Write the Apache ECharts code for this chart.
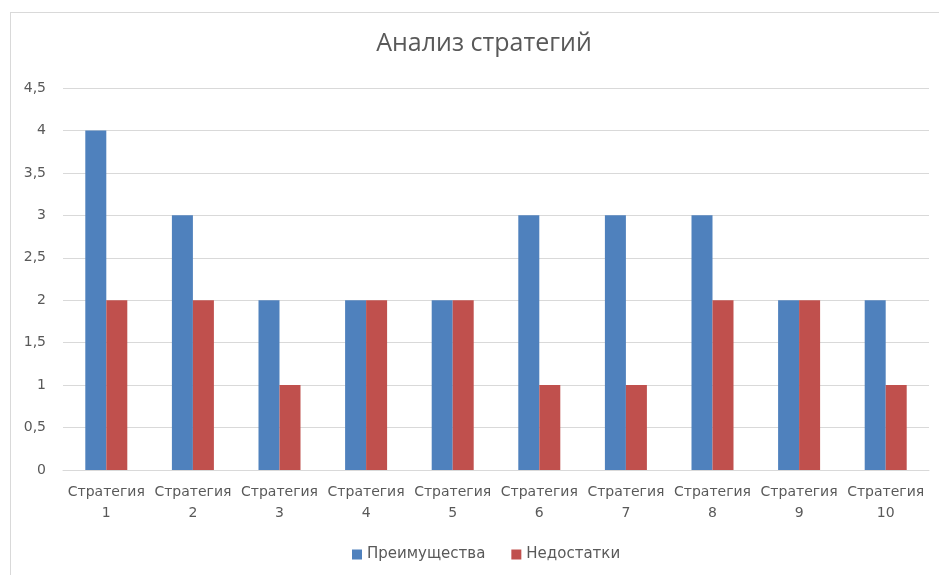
<!DOCTYPE html>
<html>
<head>
<meta charset="utf-8">
<script src="https://cdn.jsdelivr.net/npm/echarts@6/dist/echarts.min.js"></script>
<style>
html,body{margin:0;padding:0;background:#fff}
#frame{position:absolute;left:10px;top:12px;width:960px;height:600px;border:1px solid #d9d9d9;box-sizing:border-box}
#chart{position:absolute;left:0;top:0;width:939px;height:575px}
</style>
</head>
<body>
<div id="frame"></div>
<div id="chart"></div>
<script>
const categories=['Стратегия\n1','Стратегия\n2','Стратегия\n3','Стратегия\n4','Стратегия\n5','Стратегия\n6','Стратегия\n7','Стратегия\n8','Стратегия\n9','Стратегия\n10'];
const pros=[4,3,2,2,2,3,3,3,2,2];
const cons=[2,2,1,2,2,1,1,2,2,1];
const seriesNames=['Преимущества','Недостатки'];

var c=echarts.init(document.getElementById('chart'));
c.setOption({
 animation:false,
 textStyle:{fontFamily:'DejaVu Sans'},
 title:{text:'Анализ стратегий',left:479,top:26,textAlign:'center',
  textStyle:{fontSize:25,fontWeight:'normal',color:'#595959',fontFamily:'Open Sans'}},
 legend:{bottom:8,left:347,itemWidth:10,itemHeight:10,itemGap:26,icon:'rect',
  textStyle:{fontSize:15,color:'#595959',fontFamily:'DejaVu Sans'},data:seriesNames},
 grid:{left:63,right:10,top:88,bottom:105,containLabel:false},
 xAxis:{type:'category',data:categories,
  axisLine:{lineStyle:{color:'#d9d9d9'}},axisTick:{show:false},
  axisLabel:{color:'#595959',fontSize:14,lineHeight:21,margin:12,interval:0,fontFamily:'DejaVu Sans'}},
 yAxis:{type:'value',min:0,max:4.5,interval:0.5,
  axisLine:{show:false},axisTick:{show:false},
  splitLine:{lineStyle:{color:'#d9d9d9'}},
  axisLabel:{color:'#595959',fontSize:14,margin:17,fontFamily:'DejaVu Sans',formatter:v=>String(v).replace('.',',')}},
 series:[
  {name:seriesNames[0],type:'bar',data:pros,barWidth:21,barGap:'0%',itemStyle:{color:'#4F81BD'}},
  {name:seriesNames[1],type:'bar',data:cons,barWidth:21,barGap:'0%',itemStyle:{color:'#C0504D'}}
 ]
});
</script>
</body>
</html>
